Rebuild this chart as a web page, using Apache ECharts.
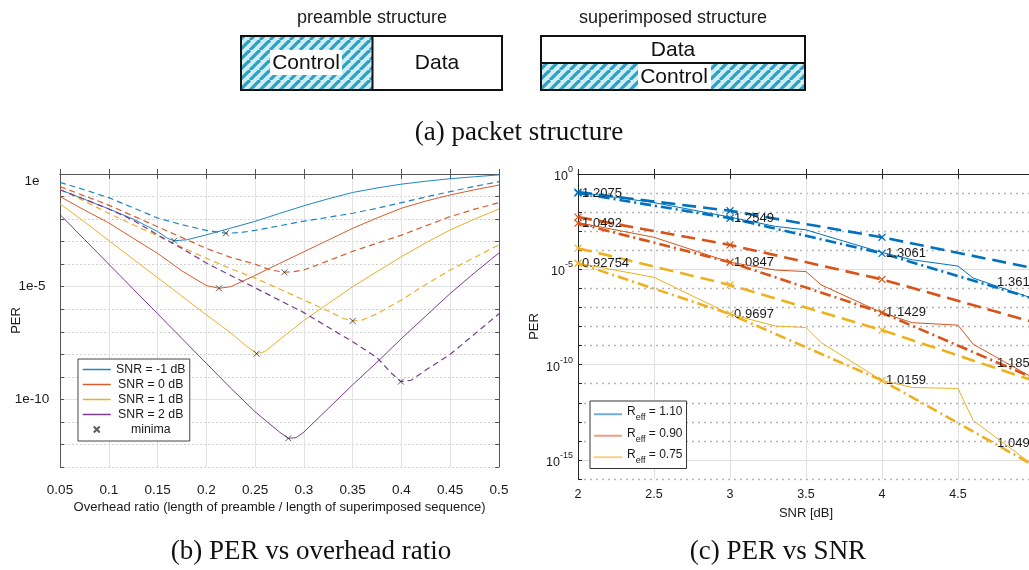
<!DOCTYPE html>
<html>
<head>
<meta charset="utf-8">
<script src="https://cdn.jsdelivr.net/npm/echarts@6/dist/echarts.min.js"></script>
<style>
  html, body { margin: 0; padding: 0; background: #fff; }
  #chart { width: 1029px; height: 570px; }
</style>
</head>
<body>
<div id="chart"></div>
<script>
// ---------- (b) PER vs overhead ratio : [overhead ratio, log10(PER)] ----------
const snrNames = ['SNR = -1 dB', 'SNR = 0 dB', 'SNR = 1 dB', 'SNR = 2 dB'];

// preamble structure (solid)
const preSnrM1 = [[0.05,-0.7],[0.075,-1.12],[0.1,-1.55],[0.125,-2.0],[0.15,-2.55],[0.16,-2.85],[0.167,-2.96],[0.18,-2.92],[0.2,-2.7],[0.225,-2.4],[0.25,-2.1],[0.275,-1.75],[0.3,-1.41],[0.325,-1.1],[0.35,-0.82],[0.375,-0.62],[0.4,-0.45],[0.425,-0.32],[0.45,-0.21],[0.475,-0.12],[0.5,-0.04]];
const preSnr0 = [[0.05,-1.0],[0.075,-1.6],[0.1,-2.17],[0.125,-2.85],[0.15,-3.52],[0.175,-4.3],[0.2,-4.95],[0.213,-5.07],[0.225,-5.0],[0.25,-4.5],[0.275,-3.97],[0.3,-3.45],[0.325,-2.93],[0.35,-2.41],[0.375,-1.95],[0.4,-1.52],[0.425,-1.2],[0.45,-0.93],[0.475,-0.7],[0.5,-0.49]];
const preSnr1 = [[0.05,-1.32],[0.075,-2.12],[0.1,-2.95],[0.125,-3.78],[0.15,-4.6],[0.175,-5.42],[0.2,-6.25],[0.225,-7.05],[0.24,-7.6],[0.2515,-7.97],[0.26,-7.88],[0.275,-7.35],[0.3,-6.5],[0.325,-5.75],[0.35,-5.0],[0.375,-4.33],[0.4,-3.67],[0.425,-3.05],[0.45,-2.48],[0.475,-2.0],[0.5,-1.55]];
const preSnr2 = [[0.05,-1.8],[0.075,-2.9],[0.1,-4.0],[0.125,-5.1],[0.15,-6.2],[0.175,-7.3],[0.2,-8.4],[0.225,-9.5],[0.25,-10.55],[0.275,-11.45],[0.284,-11.73],[0.292,-11.7],[0.3,-11.45],[0.325,-10.4],[0.35,-9.35],[0.375,-8.35],[0.4,-7.3],[0.425,-6.3],[0.45,-5.3],[0.475,-4.38],[0.5,-3.5]];

// superimposed structure (dashed)
const supSnrM1 = [[0.05,-0.37],[0.075,-0.7],[0.1,-1.05],[0.125,-1.5],[0.15,-1.95],[0.175,-2.25],[0.2,-2.5],[0.22,-2.63],[0.235,-2.6],[0.25,-2.5],[0.275,-2.3],[0.3,-2.09],[0.325,-1.92],[0.35,-1.74],[0.375,-1.52],[0.4,-1.27],[0.425,-1.02],[0.45,-0.78],[0.475,-0.55],[0.5,-0.34]];
const supSnr0 = [[0.05,-0.56],[0.075,-0.97],[0.1,-1.38],[0.125,-1.86],[0.15,-2.34],[0.175,-2.82],[0.2,-3.3],[0.225,-3.7],[0.25,-4.0],[0.265,-4.25],[0.28,-4.36],[0.29,-4.33],[0.3,-4.26],[0.325,-3.85],[0.35,-3.43],[0.375,-3.07],[0.4,-2.71],[0.425,-2.3],[0.45,-1.89],[0.475,-1.56],[0.5,-1.27]];
const supSnr1 = [[0.05,-0.68],[0.075,-1.2],[0.1,-1.75],[0.125,-2.25],[0.15,-2.75],[0.175,-3.25],[0.2,-3.74],[0.225,-4.2],[0.25,-4.62],[0.275,-5.1],[0.3,-5.59],[0.325,-6.08],[0.34,-6.4],[0.35,-6.52],[0.36,-6.48],[0.375,-6.2],[0.4,-5.59],[0.425,-4.9],[0.45,-4.26],[0.475,-3.7],[0.5,-3.14]];
const supSnr2 = [[0.05,-0.7],[0.075,-1.12],[0.1,-1.55],[0.125,-2.05],[0.15,-2.7],[0.175,-3.3],[0.2,-3.95],[0.225,-4.5],[0.25,-5.05],[0.275,-5.6],[0.3,-6.15],[0.325,-6.8],[0.35,-7.44],[0.375,-8.15],[0.39,-8.85],[0.3994,-9.21],[0.41,-9.15],[0.425,-8.7],[0.45,-8.0],[0.475,-7.1],[0.5,-6.2]];

// ---------- (c) PER vs SNR : log10(PER) ----------
const reffNames = ['R_eff = 1.10', 'R_eff = 0.90', 'R_eff = 0.75'];
const snrSim = [2, 2.5, 3, 3.3, 3.5, 3.6, 4, 4.2, 4.5, 4.6, 5];
const simR110 = [-0.95,-1.5,-2.26,-2.75,-2.93,-3.17,-4.12,-4.5,-4.83,-5.46,-6.55];
const simR090 = [-2.55,-3.32,-4.63,-5.04,-5.12,-5.82,-7.28,-7.8,-7.93,-8.93,-10.72];
const simR075 = [-4.68,-5.42,-7.35,-7.98,-8.05,-8.85,-10.83,-11.2,-11.25,-12.93,-15.3];
const snrBound = [2, 3, 4, 5];
const dashR110 = [-0.95,-1.93,-3.32,-4.95];
const dashR090 = [-2.26,-3.72,-5.53,-7.78];
const dashR075 = [-3.89,-5.82,-8.19,-10.85];
const dotR110 = [-1.0,-2.32,-4.16,-6.55];
const dotR090 = [-2.58,-4.63,-7.28,-10.72];
const dotR075 = [-4.68,-7.35,-10.83,-15.3];
const noteR110 = ['1.2075','1.2549','1.3061','1.3617'];
const noteR090 = ['1.0492','1.0847','1.1429','1.1852'];
const noteR075 = ['0.92754','0.9697','1.0159','1.0492'];

// ---------- styling ----------
const SANS = '"Liberation Sans", Arial, Helvetica, sans-serif';
const SERIF = '"Liberation Serif", "Times New Roman", serif';
const leftColors = ['#1f86c4', '#d95b2c', '#ebb02a', '#7d3a91'];
const rightColors = ['#0072BD', '#D95319', '#EDB120'];
const rightLegendColors = ['#6eaede', '#ee9f80', '#f3d285'];
const X_MARK = 'path://M0,0L10,10M10,0L0,10';

function hatch() {
  const s = 10;
  const cv = document.createElement('canvas');
  cv.width = s; cv.height = s;
  const g = cv.getContext('2d');
  g.fillStyle = '#cdeff6';
  g.fillRect(0, 0, s, s);
  g.strokeStyle = '#2f9fc4';
  g.lineWidth = 3.2;
  for (const k of [-s, 0, s]) {
    g.beginPath(); g.moveTo(k, s); g.lineTo(k + s, 0); g.stroke();
  }
  return { type: 'pattern', image: cv, repeat: 'repeat' };
}
const hatchFill = hatch();

const preCurves = [preSnrM1, preSnr0, preSnr1, preSnr2];
const supCurves = [supSnrM1, supSnr0, supSnr1, supSnr2];
const lowest = c => c.reduce((m, p) => (p[1] < m[1] ? p : m));
const minima = preCurves.concat(supCurves).map(lowest);

// split lines: dotted on every decade, solid on every fifth decade
const T = 'rgba(0,0,0,0)';
function axisText(extra) {
  return Object.assign({ fontFamily: SANS, color: '#1a1a1a' }, extra);
}

const series = [];
preCurves.forEach((c, i) => {
  series.push({
    name: snrNames[i], type: 'line', xAxisIndex: 0, yAxisIndex: 0,
    data: c, symbol: 'none', color: leftColors[i],
    lineStyle: { color: leftColors[i], width: 1 }, z: 3
  });
});
supCurves.forEach((c, i) => {
  series.push({
    name: snrNames[i] + ' (superimposed)', type: 'line', xAxisIndex: 0, yAxisIndex: 0,
    data: c, symbol: 'none', color: leftColors[i],
    lineStyle: { color: leftColors[i], width: 1.2, type: [6, 4] }, z: 3
  });
});
series.push({
  name: 'minima', type: 'scatter', xAxisIndex: 0, yAxisIndex: 0,
  data: minima, symbol: X_MARK, symbolSize: 6,
  itemStyle: { color: '#333', borderColor: '#333', borderWidth: 1 }, z: 5
});

const sims = [simR110, simR090, simR075];
const dashes = [dashR110, dashR090, dashR075];
const dots = [dotR110, dotR090, dotR075];
const notes = [noteR110, noteR090, noteR075];
const lastNoteShift = [[-41, -16], [-41, -15], [-41, -22]];

sims.forEach((v, i) => {
  const col = rightColors[i];
  series.push({
    name: reffNames[i], type: 'line', xAxisIndex: 2, yAxisIndex: 2,
    data: snrSim.map((s, j) => [s, v[j]]), symbol: 'none', color: col,
    lineStyle: { color: col, width: 1 }, z: 4
  });
  series.push({
    name: reffNames[i] + ' dashed', type: 'line', xAxisIndex: 2, yAxisIndex: 2,
    data: snrBound.map((s, j) => [s, dashes[i][j]]),
    symbol: X_MARK, symbolSize: 7, showSymbol: true,
    itemStyle: { color: col, borderColor: col, borderWidth: 1.2 },
    lineStyle: { color: col, width: 2.6, type: [14, 7] }, z: 3
  });
  series.push({
    name: reffNames[i] + ' dash-dot', type: 'line', xAxisIndex: 2, yAxisIndex: 2,
    data: snrBound.map((s, j) => ({
      value: [s, dots[i][j]],
      label: {
        show: true, position: 'right', distance: 0,
        offset: j === snrBound.length - 1 ? lastNoteShift[i] : [0, 0],
        formatter: notes[i][j], fontFamily: SANS, fontSize: 13, color: '#1a1a1a'
      }
    })),
    symbol: X_MARK, symbolSize: 7, showSymbol: true,
    itemStyle: { color: col, borderColor: col, borderWidth: 1.2 },
    lineStyle: { color: col, width: 2.6, type: [11, 4, 2, 4] }, z: 3
  });
});

const hiddenMarker = { opacity: 0 };

const option = {
  animation: false,
  backgroundColor: '#fff',
  grid: [
    { left: 60, top: 174, width: 439, height: 293, outerBoundsMode: 'none', containLabel: false },
    { left: 578, top: 174, width: 456, height: 305, outerBoundsMode: 'none', containLabel: false }
  ],
  xAxis: [
    {
      gridIndex: 0, type: 'value', position: 'bottom', min: 0.05, max: 0.5, interval: 0.05,
      axisLine: { lineStyle: { color: '#555' } },
      axisTick: { inside: true, length: 5, lineStyle: { color: '#555' } },
      axisLabel: axisText({ margin: 16, fontSize: 13.5 }),
      splitLine: { show: true, lineStyle: { color: '#e2e2e2', width: 1 } },
      name: 'Overhead ratio (length of preamble / length of superimposed sequence)',
      nameLocation: 'middle', nameGap: 34, nameMoveOverlap: false,
      nameTextStyle: axisText({ fontSize: 13 })
    },
    {
      gridIndex: 0, type: 'value', position: 'top', min: 0.05, max: 0.5, interval: 0.05,
      axisLine: { lineStyle: { color: '#555' } },
      axisTick: { inside: true, length: 5, lineStyle: { color: '#555' } },
      axisLabel: { show: false }, splitLine: { show: false }
    },
    {
      gridIndex: 1, type: 'value', position: 'bottom', min: 2, max: 5, interval: 0.5,
      axisLine: { lineStyle: { color: '#262626' } },
      axisTick: { inside: true, length: 5, lineStyle: { color: '#262626' } },
      axisLabel: axisText({ margin: 9, fontSize: 12.5 }),
      splitLine: { show: true, lineStyle: { color: '#e0e0e0', width: 1 } },
      name: 'SNR [dB]', nameLocation: 'middle', nameGap: 28, nameMoveOverlap: false,
      nameTextStyle: axisText({ fontSize: 13 })
    },
    {
      gridIndex: 1, type: 'value', position: 'top', min: 2, max: 5, interval: 0.5,
      axisLine: { lineStyle: { color: '#262626' } },
      axisTick: { inside: true, length: 5, lineStyle: { color: '#262626' } },
      axisLabel: { show: false }, splitLine: { show: false }
    }
  ],
  yAxis: [
    {
      gridIndex: 0, type: 'value', position: 'left', min: -13, max: 0, interval: 1,
      axisLine: { show: true, lineStyle: { color: '#555' } },
      axisTick: { show: true, inside: true, length: 4, lineStyle: { color: '#555' } },
      axisLabel: {
        margin: 11,
        formatter: v => (v === 0 ? '{top|1e}' : (v % 5 === 0 ? '{n|1e' + v + '}' : '')),
        rich: {
          n: { width: 34, align: 'center', fontSize: 13.5, fontFamily: SANS, color: '#1a1a1a' },
          top: { width: 34, align: 'center', fontSize: 13.5, fontFamily: SANS, color: '#1a1a1a', padding: [15, 0, 0, 0] }
        }
      },
      splitLine: { show: true, lineStyle: { color: ['#d2d2d2', '#d2d2d2', '#d2d2d2', T, '#d2d2d2'], type: [2, 2], width: 1 } },
      name: 'PER', nameLocation: 'middle', nameGap: 37, nameRotate: 90, nameMoveOverlap: false,
      nameTextStyle: axisText({ fontSize: 13 })
    },
    {
      gridIndex: 0, type: 'value', position: 'right', min: -13, max: 0, interval: 1,
      axisLine: { show: true, lineStyle: { color: '#555' } },
      axisTick: { show: true, inside: true, length: 4, lineStyle: { color: '#555' } },
      axisLabel: { show: false },
      splitLine: { show: true, lineStyle: { color: [T, T, T, '#e2e2e2', T], width: 1 } }
    },
    {
      gridIndex: 1, type: 'value', position: 'left', min: -16, max: 0, interval: 1,
      axisLine: { show: true, lineStyle: { color: '#262626' } },
      axisTick: { show: true, inside: true, length: 4, lineStyle: { color: '#262626' } },
      axisLabel: {
        margin: 5,
        formatter: v => (v % 5 === 0 ? '{b|10}{s|' + v + '}' : ''),
        rich: {
          b: { fontSize: 12.5, fontFamily: SANS, color: '#1a1a1a', verticalAlign: 'bottom', lineHeight: 18 },
          s: { fontSize: 9, fontFamily: SANS, color: '#1a1a1a', verticalAlign: 'top', lineHeight: 18 }
        }
      },
      splitLine: { show: true, lineStyle: { color: ['#b4b4b4', T, '#b4b4b4', '#b4b4b4', '#b4b4b4'], type: [2, 4], width: 1.3 } },
      name: 'PER', nameLocation: 'middle', nameGap: 37, nameRotate: 90, nameMoveOverlap: false,
      nameTextStyle: axisText({ fontSize: 13 })
    },
    {
      gridIndex: 1, type: 'value', position: 'right', min: -16, max: 0, interval: 1,
      axisLine: { show: true, lineStyle: { color: '#262626' } },
      axisTick: { show: false }, axisLabel: { show: false },
      splitLine: { show: true, lineStyle: { color: [T, '#dedede', T, T, T], width: 1 } }
    }
  ],
  legend: [
    {
      orient: 'vertical', left: 78, top: 359,
      data: snrNames.map((n, i) => ({
        name: n, itemStyle: hiddenMarker,
        lineStyle: { color: leftColors[i], width: 1.5 }
      })).concat([{ name: 'minima' }]),
      itemWidth: 28, itemHeight: 6, itemGap: 2,
      padding: [4, 4, 5, 4],
      backgroundColor: '#fff', borderColor: '#444', borderWidth: 1, borderRadius: 0,
      selectedMode: false,
      formatter: name => '{c|' + name + '}',
      textStyle: {
        lineHeight: 13,
        rich: { c: { width: 70, align: 'center', fontSize: 12.3, lineHeight: 13, fontFamily: SANS, color: '#1a1a1a' } }
      }
    },
    {
      orient: 'vertical', left: 590, top: 401,
      data: reffNames.map((n, i) => ({
        name: n,
        itemStyle: hiddenMarker,
        lineStyle: { color: rightLegendColors[i], width: 2 }
      })),
      itemWidth: 28, itemHeight: 8, itemGap: 5,
      padding: [5, 4, 3, 3],
      backgroundColor: '#fff', borderColor: '#333', borderWidth: 1, borderRadius: 0,
      selectedMode: false,
      formatter: name => '{r|R}{sub|eff}{r|' + name.slice(5) + '}',
      textStyle: {
        rich: {
          r: { fontSize: 12, fontFamily: SANS, color: '#1a1a1a', verticalAlign: 'top', lineHeight: 16.5 },
          sub: { fontSize: 9, fontFamily: SANS, color: '#1a1a1a', verticalAlign: 'bottom', lineHeight: 16.5 }
        }
      }
    }
  ],
  graphic: [
    // (a) packet structure
    { type: 'text', x: 372, y: 18, style: { text: 'preamble structure', font: '18px ' + SANS, fill: '#1a1a1a', align: 'center', verticalAlign: 'middle' } },
    { type: 'rect', shape: { x: 241, y: 36, width: 131.5, height: 54 }, style: { fill: hatchFill } },
    { type: 'rect', shape: { x: 270, y: 50, width: 72, height: 25 }, style: { fill: '#fff' } },
    { type: 'text', x: 306, y: 63, style: { text: 'Control', font: '21px ' + SANS, fill: '#111', align: 'center', verticalAlign: 'middle' } },
    { type: 'text', x: 437, y: 63, style: { text: 'Data', font: '21px ' + SANS, fill: '#111', align: 'center', verticalAlign: 'middle' } },
    { type: 'line', shape: { x1: 372.5, y1: 36, x2: 372.5, y2: 90 }, style: { stroke: '#111', lineWidth: 2 } },
    { type: 'rect', shape: { x: 241, y: 36, width: 261, height: 54 }, style: { fill: null, stroke: '#111', lineWidth: 2 } },

    { type: 'text', x: 673, y: 18, style: { text: 'superimposed structure', font: '18px ' + SANS, fill: '#1a1a1a', align: 'center', verticalAlign: 'middle' } },
    { type: 'rect', shape: { x: 541, y: 63, width: 264, height: 27 }, style: { fill: hatchFill } },
    { type: 'rect', shape: { x: 638, y: 64, width: 73, height: 25 }, style: { fill: '#fff' } },
    { type: 'text', x: 674, y: 77, style: { text: 'Control', font: '21px ' + SANS, fill: '#111', align: 'center', verticalAlign: 'middle' } },
    { type: 'text', x: 673, y: 50, style: { text: 'Data', font: '21px ' + SANS, fill: '#111', align: 'center', verticalAlign: 'middle' } },
    { type: 'line', shape: { x1: 541, y1: 63, x2: 805, y2: 63 }, style: { stroke: '#111', lineWidth: 2 } },
    { type: 'rect', shape: { x: 541, y: 36, width: 264, height: 54 }, style: { fill: null, stroke: '#111', lineWidth: 2 } },

    // captions
    { type: 'text', x: 519, y: 133, style: { text: '(a) packet structure', font: '27px ' + SERIF, fill: '#111', align: 'center', verticalAlign: 'middle' } },
    { type: 'text', x: 311, y: 552, style: { text: '(b) PER vs overhead ratio', font: '27px ' + SERIF, fill: '#111', align: 'center', verticalAlign: 'middle' } },
    { type: 'text', x: 778, y: 552, style: { text: '(c) PER vs SNR', font: '27px ' + SERIF, fill: '#111', align: 'center', verticalAlign: 'middle' } }
  ],
  series: series
};

const chart = echarts.init(document.getElementById('chart'), null, { renderer: 'canvas' });
chart.setOption(option);
</script>
</body>
</html>
